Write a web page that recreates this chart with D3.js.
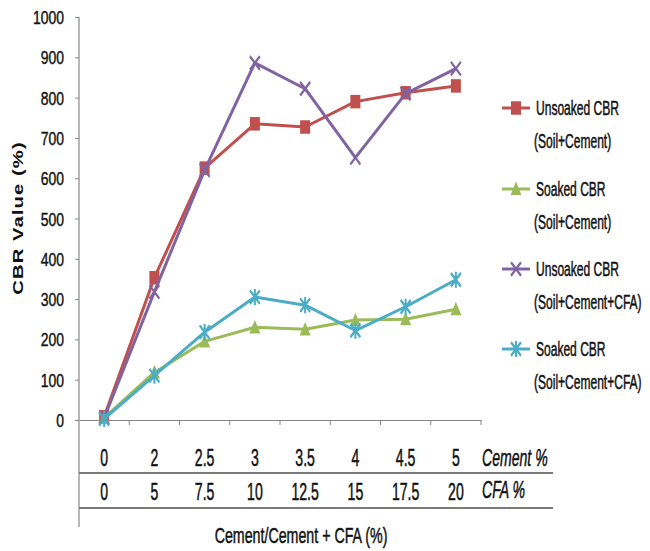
<!DOCTYPE html>
<html>
<head>
<meta charset="utf-8">
<script src="https://cdn.jsdelivr.net/npm/d3@7"></script>
<style>
  html, body { margin: 0; padding: 0; background: #fff; }
  svg { display: block; }
  .lbl { font-family: "Liberation Sans", Arial, sans-serif; fill: #111; stroke: #111; stroke-width: 0.35px; }
</style>
</head>
<body>
<svg id="chart" width="650" height="551"></svg>
<script>
// Mix proportions (two rows under the axis)
const cementPct = ["0", "2", "2.5", "3", "3.5", "4", "4.5", "5"];
const cfaPct = ["0", "5", "7.5", "10", "12.5", "15", "17.5", "20"];

// CBR values (%) for each mix
const unsoakedCement = [8, 353, 625, 735, 727, 790, 812, 829];
const soakedCement = [5, 118, 195, 230, 225, 248, 250, 275];
const unsoakedCFA = [5, 318, 620, 886, 822, 651, 810, 872];
const soakedCFA = [3, 110, 218, 305, 285, 222, 281, 348];

const yTicks = [0, 100, 200, 300, 400, 500, 600, 700, 800, 900, 1000];

const series = [
  { name: ["Unsoaked CBR", "(Soil+Cement)"], values: unsoakedCement, color: "#C0504D", marker: "square" },
  { name: ["Soaked CBR", "(Soil+Cement)"], values: soakedCement, color: "#9BBB59", marker: "triangle" },
  { name: ["Unsoaked CBR", "(Soil+Cement+CFA)"], values: unsoakedCFA, color: "#8064A2", marker: "x" },
  { name: ["Soaked CBR", "(Soil+Cement+CFA)"], values: soakedCFA, color: "#4BACC6", marker: "star" }
];

const svg = d3.select("#chart");
const axisColor = "#868686";
const plotLeft = 79, plotRight = 481, plotTop = 17, zeroY = 420;

const x = d3.scaleBand().domain(d3.range(cementPct.length)).range([plotLeft, plotRight]).padding(0);
const y = d3.scaleLinear().domain([0, 1000]).range([zeroY, plotTop]);
const cx = i => x(i) + x.bandwidth() / 2;

// Tall, narrow label text: font size f, horizontal scale sx, vertical scale sy
function label(g, str, px, py, f, sx, sy, opts = {}) {
  const t = g.append("text")
    .attr("class", "lbl")
    .attr("transform", `translate(${px},${py}) scale(${sx},${sy})`)
    .attr("dy", "0.35em")
    .attr("text-anchor", opts.anchor || "middle")
    .style("font-size", f + "px")
    .text(str);
  if (opts.italic) t.style("font-style", "italic");
  return t;
}

// Y axis
const yAxis = svg.append("g")
  .attr("transform", `translate(${plotLeft},0)`)
  .call(d3.axisLeft(y).tickValues(yTicks).tickSize(4).tickFormat(d3.format("d")));
yAxis.select(".domain").remove();
yAxis.selectAll(".tick line").attr("stroke", axisColor);
yAxis.selectAll(".tick text")
  .attr("class", "lbl")
  .attr("x", 0)
  .attr("dy", "0.35em")
  .attr("transform", "translate(-15,0) scale(0.93,1.24)")
  .style("font-size", "15px");

// vertical axis line running down through the table rows
svg.append("line").attr("x1", plotLeft).attr("x2", plotLeft).attr("y1", plotTop).attr("y2", 527)
  .attr("stroke", axisColor).attr("stroke-width", 1.2);

// X axis line with tick marks between categories
const xAxis = svg.append("g")
  .attr("transform", `translate(0,${zeroY})`)
  .call(d3.axisBottom(x).tickValues([]).tickSizeOuter(0));
xAxis.select(".domain").attr("stroke", axisColor).attr("stroke-width", 1.2);
xAxis.selectAll(".bnd").data(d3.range(1, cementPct.length + 1)).join("line")
  .attr("x1", i => x.step() * i + plotLeft).attr("x2", i => x.step() * i + plotLeft)
  .attr("y1", 0).attr("y2", 5).attr("stroke", axisColor);

// Table rows under the axis
const tableRight = 553;
[473, 508].forEach(yy => {
  svg.append("line").attr("x1", plotLeft).attr("x2", tableRight).attr("y1", yy).attr("y2", yy)
    .attr("stroke", "#7a7a7a").attr("stroke-width", 1.8);
});
const rows = svg.append("g");
cementPct.forEach((c, i) => label(rows, c, cx(i), 458, 16, 0.88, 1.45));
cfaPct.forEach((c, i) => label(rows, c, cx(i), 492, 16, 0.88, 1.45));
label(rows, "Cement %", 482, 458, 16, 0.88, 1.45, { anchor: "start", italic: true });
label(rows, "CFA %", 482, 490, 16, 0.88, 1.45, { anchor: "start", italic: true });

// Axis titles
label(svg, "Cement/Cement + CFA (%)", 301, 535, 16, 0.89, 1.4);
svg.append("text")
  .attr("transform", "translate(18,218) rotate(-90) scale(1.35,1)")
  .attr("text-anchor", "middle")
  .attr("dy", "0.35em")
  .style("font-family", "'Liberation Sans', Arial, sans-serif")
  .style("font-weight", "bold")
  .style("font-size", "15px")
  .style("letter-spacing", "0.8px")
  .style("fill", "#111")
  .text("CBR Value (%)");

// Marker shapes
function drawMarker(g, type, color) {
  if (type === "square") {
    g.append("rect").attr("x", -5).attr("y", -5).attr("width", 10).attr("height", 10).attr("fill", color);
  } else if (type === "triangle") {
    g.append("path").attr("d", "M0,-5.5L5.5,4.5L-5.5,4.5Z").attr("fill", color);
  } else if (type === "x") {
    g.append("path").attr("d", "M-5,-5L5,5M5,-5L-5,5").attr("stroke", color).attr("stroke-width", 2);
  } else {
    g.append("path").attr("d", "M-5,-5L5,5M5,-5L-5,5M0,-6L0,6").attr("stroke", color).attr("stroke-width", 2);
  }
}

// Series lines and markers
const line = d3.line().x((d, i) => cx(i)).y(d => y(d));
series.forEach(s => {
  const g = svg.append("g");
  g.append("path").attr("d", line(s.values)).attr("fill", "none")
    .attr("stroke", s.color).attr("stroke-width", 3).attr("stroke-linejoin", "round");
  g.selectAll(".m").data(s.values).join("g")
    .attr("transform", (d, i) => `translate(${cx(i)},${y(d)}) scale(1,1.35)`)
    .each(function () { drawMarker(d3.select(this), s.marker, s.color); });
});

// Legend
const legendTops = [108, 189, 269, 349];
series.forEach((s, k) => {
  const g = svg.append("g");
  const yy = legendTops[k];
  g.append("line").attr("x1", 502).attr("x2", 530).attr("y1", yy).attr("y2", yy)
    .attr("stroke", s.color).attr("stroke-width", 3);
  const m = g.append("g").attr("transform", `translate(516,${yy}) scale(1,1.35)`);
  drawMarker(m, s.marker, s.color);
  label(g, s.name[0], 536, yy, 14, 0.86, 1.4, { anchor: "start" });
  label(g, s.name[1], 534, yy + 33, 14, 0.86, 1.4, { anchor: "start" });
});
</script>
</body>
</html>
